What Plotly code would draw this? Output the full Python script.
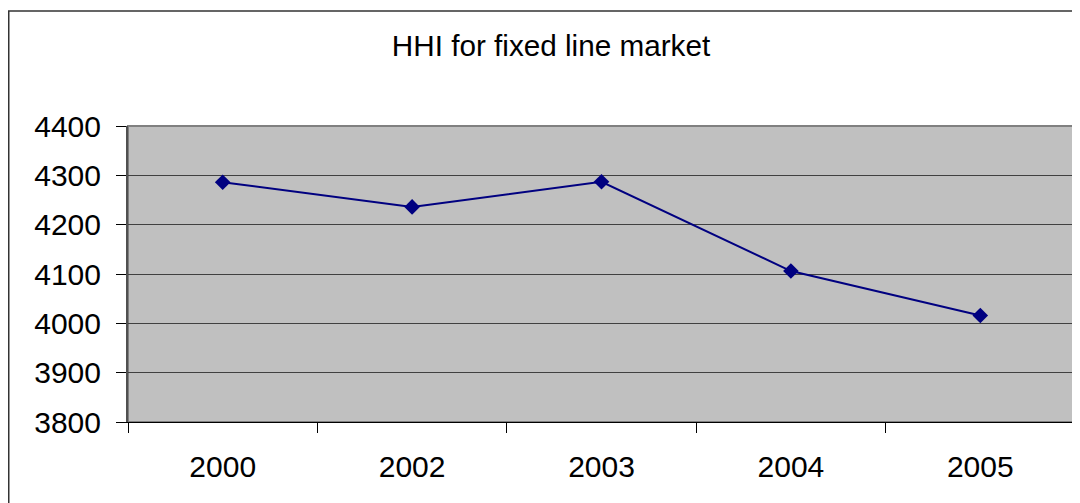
import plotly.graph_objects as go

years = ["2000", "2002", "2003", "2004", "2005"]
hhi = [4286, 4236, 4287, 4106, 4016]
y_ticks = [3800, 3900, 4000, 4100, 4200, 4300, 4400]

# page body has an 8px margin, so the figure is sized to fit the window
W, H = 1072, 495
L, R, T, B = 120, 5, 118, 81
pw, ph = W - L - R, H - T - B

fig = go.Figure()
fig.add_trace(go.Scatter(
    x=years, y=hhi, mode="lines+markers",
    line=dict(color="#000080", width=2),
    marker=dict(symbol="diamond", size=12, color="#000080"),
    showlegend=False,
))

font = "Liberation Sans, Arial, sans-serif"
fig.update_layout(
    width=W, height=H,
    margin=dict(l=L, r=R, t=T, b=B),
    paper_bgcolor="white", plot_bgcolor="#C0C0C0",
    font=dict(family=font, color="black"),
    title=dict(text="HHI for fixed line market", x=543 / W, xanchor="center",
               xref="container", y=1 - 38 / H, yref="container", yanchor="middle",
               font=dict(size=29.7, family=font, color="black")),
    xaxis=dict(type="category", range=[-0.5, len(years) - 0.5],
               tickson="boundaries", ticks="outside", ticklen=10,
               tickcolor="black", showline=True, linecolor="black", linewidth=1,
               showgrid=False, tickfont=dict(size=30), ticklabelstandoff=18),
    yaxis=dict(range=[3800, 4400], tickvals=y_ticks, ticks="outside", ticklen=10,
               tickcolor="black", showline=True, linecolor="#505050", linewidth=2,
               showgrid=True, gridcolor="#404040", gridwidth=1,
               tickfont=dict(size=30), ticklabelstandoff=9, zeroline=False),
)

# plot-area outline (top/right edges in grey)
fig.add_shape(type="rect", xref="paper", yref="paper", x0=0, x1=1, y0=0, y1=1,
              line=dict(color="#808080", width=2), layer="below")
# outer chart border (extends past right/bottom of the view)
fig.add_shape(type="rect", xref="paper", yref="paper",
              x0=(0.75 - L) / pw, x1=1.2, y0=-0.6, y1=1 + (T - 3) / ph,
              line=dict(color="#333333", width=1.5))

fig.write_html("out.html")
